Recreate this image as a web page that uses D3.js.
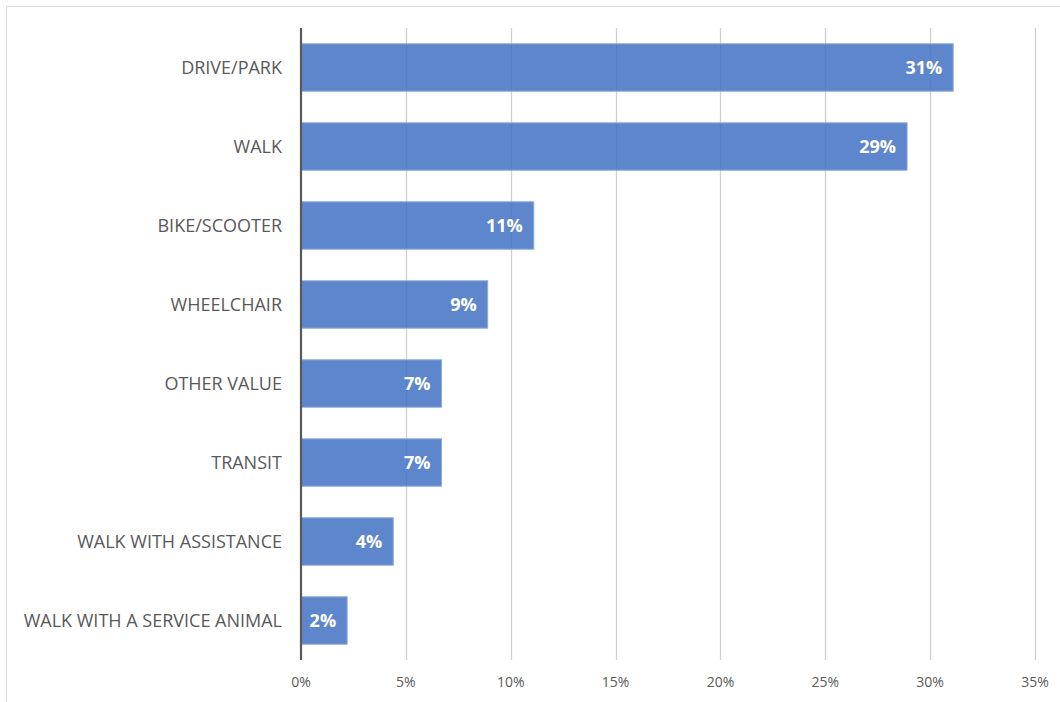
<!DOCTYPE html>
<html>
<head>
<meta charset="utf-8">
<script src="https://cdn.jsdelivr.net/npm/d3@7"></script>
<style>
  html, body { margin: 0; padding: 0; background: #ffffff; }
  svg { display: block; }
</style>
</head>
<body>
<svg id="chart" width="1060" height="702"></svg>
<script>
// Travel modes and their share of responses (percent)
const categories = [
  "DRIVE/PARK",
  "WALK",
  "BIKE/SCOOTER",
  "WHEELCHAIR",
  "OTHER VALUE",
  "TRANSIT",
  "WALK WITH ASSISTANCE",
  "WALK WITH A SERVICE ANIMAL"
];
const shares = [31.1, 28.9, 11.1, 8.9, 6.7, 6.7, 4.4, 2.2];
const tickValues = [0, 5, 10, 15, 20, 25, 30, 35];

const data = categories.map((c, i) => ({ category: c, value: shares[i] }));

const svg = d3.select("#chart");
const W = 1060, H = 702;

// Outer chart frame
svg.append("rect")
  .attr("x", 6.5).attr("y", 6.5)
  .attr("width", W + 10).attr("height", H + 10)
  .attr("fill", "#ffffff")
  .attr("stroke", "#d9d9d9")
  .attr("stroke-width", 1);

const plot = { left: 301, right: 1035, top: 28, bottom: 660 };

const x = d3.scaleLinear().domain([0, 35]).range([plot.left, plot.right]);
const y = d3.scaleBand()
  .domain(categories)
  .range([plot.top, plot.bottom])
  .paddingInner(0.4)
  .paddingOuter(0.2);

// Vertical gridlines
svg.append("g")
  .selectAll("line")
  .data(tickValues.filter(t => t > 0))
  .join("line")
  .attr("x1", d => Math.round(x(d)) + 0.5)
  .attr("x2", d => Math.round(x(d)) + 0.5)
  .attr("y1", plot.top)
  .attr("y2", plot.bottom)
  .attr("stroke", "#cfcfcf")
  .attr("stroke-width", 1.3);

// Bars
svg.append("g")
  .selectAll("rect")
  .data(data)
  .join("rect")
  .attr("x", x(0))
  .attr("y", d => y(d.category))
  .attr("width", d => x(d.value) - x(0))
  .attr("height", y.bandwidth())
  .attr("fill", "#4472c4")
  .attr("fill-opacity", 0.86)
  .attr("stroke", "#8eaadb")
  .attr("stroke-width", 1);

// Value labels inside bar ends
svg.append("g")
  .selectAll("text")
  .data(data)
  .join("text")
  .attr("x", d => x(d.value) - 11)
  .attr("y", d => y(d.category) + y.bandwidth() / 2)
  .attr("dy", "0.36em")
  .attr("text-anchor", "end")
  .attr("fill", "#ffffff")
  .attr("font-family", "'Open Sans', sans-serif")
  .attr("font-weight", 700)
  .attr("font-size", "18px")
  .text(d => Math.round(d.value) + "%");

// Category axis line
svg.append("line")
  .attr("x1", x(0)).attr("x2", x(0))
  .attr("y1", plot.top).attr("y2", plot.bottom)
  .attr("stroke", "#595959")
  .attr("stroke-width", 2.2);

// Category labels
svg.append("g")
  .selectAll("text")
  .data(categories)
  .join("text")
  .attr("x", 282)
  .attr("y", d => y(d) + y.bandwidth() / 2)
  .attr("dy", "0.35em")
  .attr("text-anchor", "end")
  .attr("fill", "#595959")
  .attr("font-family", "'Open Sans', sans-serif")
  .attr("font-size", "18px")
  .text(d => d);

// Value axis tick labels
svg.append("g")
  .selectAll("text")
  .data(tickValues)
  .join("text")
  .attr("x", d => x(d))
  .attr("y", 682)
  .attr("dy", "0.35em")
  .attr("text-anchor", "middle")
  .attr("fill", "#595959")
  .attr("font-family", "'Open Sans', sans-serif")
  .attr("font-size", "14px")
  .text(d => d + "%");
</script>
</body>
</html>
